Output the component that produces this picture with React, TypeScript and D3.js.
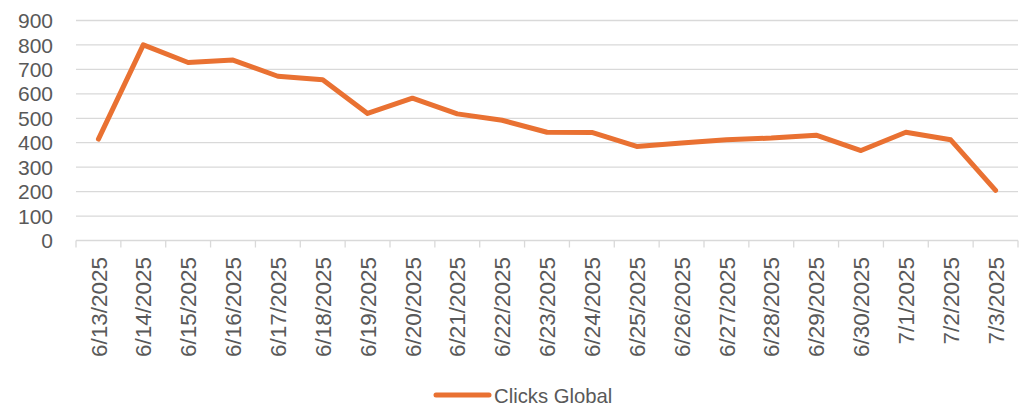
import React from "react";
import * as d3 from "d3";

const categories = [
  "6/13/2025", "6/14/2025", "6/15/2025", "6/16/2025", "6/17/2025", "6/18/2025", "6/19/2025",
  "6/20/2025", "6/21/2025", "6/22/2025", "6/23/2025", "6/24/2025", "6/25/2025", "6/26/2025",
  "6/27/2025", "6/28/2025", "6/29/2025", "6/30/2025", "7/1/2025", "7/2/2025", "7/3/2025",
];
const clicksGlobal = [
  415, 800, 728, 738, 672, 658, 520, 582, 518, 492, 443, 442, 385, 399, 412, 419, 431, 368, 443, 412, 205,
];
const yTicks = [0, 100, 200, 300, 400, 500, 600, 700, 800, 900];
const seriesName = "Clicks Global";

const W = 1024;
const H = 406;
const left = 76;
const right = 1018;
const top = 20.5;
const bottom = 240.5;
const textColor = "#595959";
const gridColor = "#d9d9d9";
const lineColor = "#E97132";
const font = "'Liberation Sans', Arial, sans-serif";

export default function App() {
  const x = d3.scaleBand<string>().domain(categories).range([left, right]).padding(0);
  const y = d3.scaleLinear().domain([0, 900]).range([bottom, top]);
  const line = d3
    .line<number>()
    .x((_, i) => (x(categories[i]) as number) + x.bandwidth() / 2)
    .y((d) => y(d));
  const boundaries = categories.map((c) => x(c) as number).concat([right]);

  return (
    <svg
      width={W}
      height={H}
      style={{ position: "absolute", left: 0, top: 0, background: "#fff" }}
      fontFamily={font}
    >
      {yTicks.map((t) => (
        <g key={t}>
          {t > 0 && (
            <line x1={left} x2={right} y1={y(t)} y2={y(t)} stroke={gridColor} strokeWidth={1.3} />
          )}
          <text x={53} y={y(t)} dy="0.36em" textAnchor="end" fontSize={21} fill={textColor}>
            {t}
          </text>
        </g>
      ))}
      <line x1={left} x2={right} y1={y(0)} y2={y(0)} stroke={gridColor} strokeWidth={1.3} />
      {boundaries.map((b, i) => (
        <line key={i} x1={b} x2={b} y1={y(0)} y2={y(0) + 7} stroke={gridColor} strokeWidth={1.3} />
      ))}
      {categories.map((c) => {
        const cx = (x(c) as number) + x.bandwidth() / 2;
        return (
          <text
            key={c}
            transform={`translate(${cx},257) rotate(-90)`}
            textAnchor="end"
            dy="0.36em"
            fontSize={22.5}
            fill={textColor}
          >
            {c}
          </text>
        );
      })}
      <path
        d={line(clicksGlobal) || ""}
        fill="none"
        stroke={lineColor}
        strokeWidth={5}
        strokeLinejoin="round"
        strokeLinecap="round"
      />
      <line x1={436} x2={489} y1={395} y2={395} stroke={lineColor} strokeWidth={5} strokeLinecap="round" />
      <text x={494} y={402.5} fontSize={20.3} fill={textColor}>
        {seriesName}
      </text>
    </svg>
  );
}
